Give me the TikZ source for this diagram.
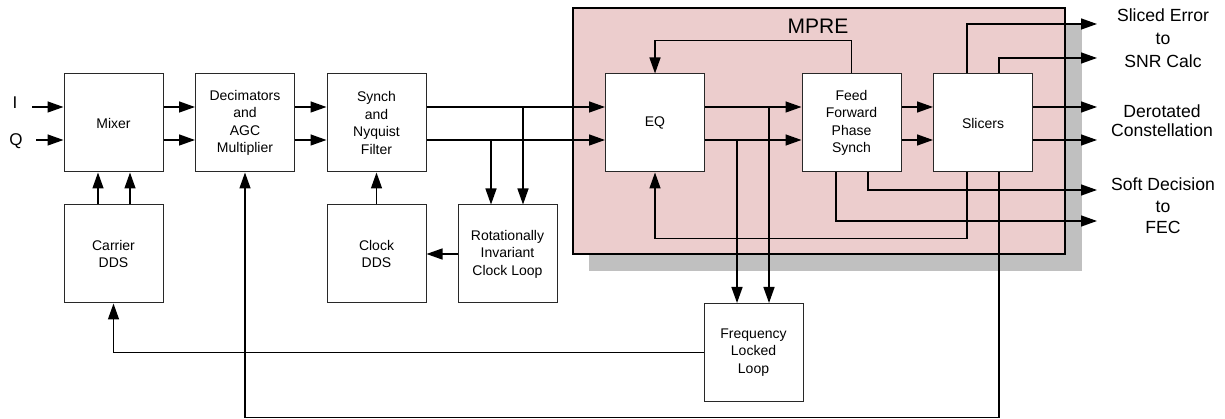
\documentclass[tikz,border=0pt]{standalone}
\usepackage{fontspec}
\setmainfont{Liberation Sans}
\usetikzlibrary{arrows.meta,calc}
\definecolor{mprefill}{RGB}{236,205,205}
\definecolor{shadowgray}{RGB}{192,192,192}
\definecolor{boxedge}{RGB}{40,40,40}
\begin{document}
\begin{tikzpicture}[x=1pt,y=-1pt,
  block/.style={draw=boxedge, line width=1pt, fill=white, minimum width=99pt,
    minimum height=98pt, inner sep=0pt, align=center,
    font=\fontsize{14}{17.5}\selectfont},
  conn/.style={line width=1.4pt},
  arr/.style={conn, -{Triangle[length=16pt,width=11pt]}},
  outlabel/.style={align=center, inner sep=0pt}]
\useasboundingbox (0,0) rectangle (1225,419);

% MPRE group with its drop shadow
\fill[shadowgray] (589,25) rectangle (1082,271);
\node[draw=black, line width=1.2pt, fill=mprefill, minimum width=492pt,
  minimum height=246pt, inner sep=0pt] (mpre) at (819,131) {};
\node[font=\fontsize{21}{25}\selectfont, anchor=base, inner sep=0pt] (mpretitle) at (818,33.3) {MPRE};

% processing blocks
\node[block] (mixer)   at (113.5,123) {Mixer};
\node[block] (decim)   at (245,123)   {Decimators\\and\\AGC\\Multiplier};
\node[block] (synch)   at (376.5,123) {Synch\\and\\Nyquist\\Filter};
\node[block] (eq)      at (655,123)   {EQ};
\node[block] (ffps)    at (851.5,123) {Feed\\Forward\\Phase\\Synch};
\node[block] (slic)    at (983,123)   {Slicers};
\node[block] (carrier) at (113.5,254) {Carrier\\DDS};
\node[block] (clkdds)  at (376.5,254) {Clock\\DDS};
\node[block] (ricl)    at (507.5,254) {Rotationally\\Invariant\\Clock Loop};
\node[block] (fll)     at (753.5,352.5) {Frequency\\Locked\\Loop};

% input labels
\node[font=\fontsize{17}{20}\selectfont, anchor=base, inner sep=0pt] (lblI) at (15,109) {I};
\node[font=\fontsize{17}{20}\selectfont, anchor=base, inner sep=0pt] (lblQ) at (16,145.5) {Q};

% output labels
\node[outlabel, font=\fontsize{17.6}{23}\selectfont] (lblsnr) at (1163,38.3) {Sliced Error\\to\\SNR Calc};
\node[outlabel, font=\fontsize{17.6}{19}\selectfont] (lblcon) at (1162,121.1) {Derotated\\Constellation};
\node[outlabel, font=\fontsize{17.6}{21.5}\selectfont] (lblfec) at (1163,206.1) {Soft Decision\\to\\FEC};

% signal rows and tap columns
\coordinate (r1) at (0,107);
\coordinate (r2) at (0,140);
\coordinate (m1) at (98,0);
\coordinate (m2) at (130,0);
\coordinate (s1) at (523,0);
\coordinate (s2) at (491,0);
\coordinate (e1) at (769,0);
\coordinate (e2) at (737,0);
\coordinate (f1) at (868,0);
\coordinate (f2) at (836,0);
\coordinate (k1) at (967,0);
\coordinate (k2) at (999,0);

% free ends of inputs and outputs
\coordinate (inI) at (32,107);
\coordinate (inQ) at (36,140);
\coordinate (o1) at (1097,24);
\coordinate (o2) at (1097,58);
\coordinate (o3) at (1097,107);
\coordinate (o4) at (1097,140);
\coordinate (o5) at (1097,190);
\coordinate (o6) at (1097,221);

% forward I/Q path
\draw[arr] (inI) -- (mixer.west |- r1);
\draw[arr] (inQ) -- (mixer.west |- r2);
\draw[arr] (mixer.east |- r1) -- (decim.west |- r1);
\draw[arr] (mixer.east |- r2) -- (decim.west |- r2);
\draw[arr] (decim.east |- r1) -- (synch.west |- r1);
\draw[arr] (decim.east |- r2) -- (synch.west |- r2);
\draw[arr] (synch.east |- r1) -- (eq.west |- r1);
\draw[arr] (synch.east |- r2) -- (eq.west |- r2);
\draw[arr] (eq.east |- r1) -- (ffps.west |- r1);
\draw[arr] (eq.east |- r2) -- (ffps.west |- r2);
\draw[arr] (ffps.east |- r1) -- (slic.west |- r1);
\draw[arr] (ffps.east |- r2) -- (slic.west |- r2);
\draw[arr] (slic.east |- r1) -- (o3);
\draw[arr] (slic.east |- r2) -- (o4);

% clock recovery loop
\draw[arr] (s1 |- r1) -- (ricl.north -| s1);
\draw[arr] (s2 |- r2) -- (ricl.north -| s2);
\draw[arr] (ricl.west) -- (clkdds.east);
\draw[arr] (clkdds.north) -- (synch.south);

% carrier loop
\draw[arr] (carrier.north -| m1) -- (mixer.south -| m1);
\draw[arr] (carrier.north -| m2) -- (mixer.south -| m2);
\draw[arr] (e1 |- r1) -- (fll.north -| e1);
\draw[arr] (e2 |- r2) -- (fll.north -| e2);
\draw[arr] (fll.west) -| (carrier.south);

% equaliser feedback
\draw[arr] (ffps.north) -- ++(0,-33) -| (eq.north);
\draw[arr] (slic.south -| k1) -- ++(0,66) -| (eq.south);

% AGC feedback
\draw[arr] (slic.south -| k2) -- ++(0,245) -| (decim.south);

% side outputs
\draw[arr] (slic.north -| k1) |- (o1);
\draw[arr] (slic.north -| k2) |- (o2);
\draw[arr] (ffps.south -| f1) |- (o5);
\draw[arr] (ffps.south -| f2) |- (o6);
\end{tikzpicture}
\end{document}
